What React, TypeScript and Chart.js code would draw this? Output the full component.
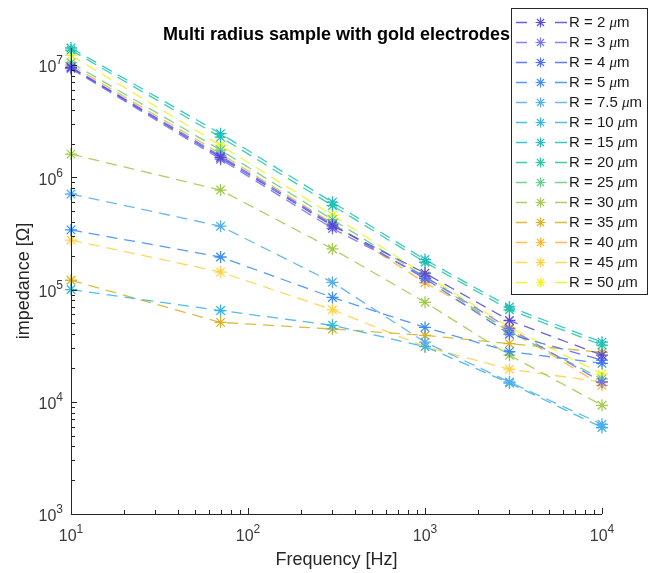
import React, { useEffect, useRef } from "react";
import { Chart, registerables } from "chart.js";

Chart.register(...registerables);

// ---- data ----
const frequencies = [10, 70, 300, 1000, 3000, 10000];
const radiusLabels = ["2", "3", "4", "5", "7.5", "10", "15", "20", "25", "30", "35", "40", "45", "50"];

const seriesR2 = [9.5e6, 1.5e6, 3.7e5, 1.4e5, 5.3e4, 2.6e4];
const seriesR3 = [9.3e6, 1.45e6, 3.5e5, 1.3e5, 4.5e4, 1.5e4];
const seriesR4 = [9.6e6, 1.55e6, 3.8e5, 1.25e5, 4.0e4, 2.35e4];
const seriesR5 = [3.4e5, 1.95e5, 8.5e4, 4.6e4, 2.8e4, 2.2e4];
const seriesR7_5 = [7.1e5, 3.67e5, 1.16e5, 3.4e4, 1.5e4, 6.3e3];
const seriesR10 = [1.0e5, 6.5e4, 4.8e4, 3.1e4, 1.47e4, 5.9e3];
const seriesR15 = [1.42e7, 2.45e6, 6.0e5, 1.85e5, 7.0e4, 3.4e4];
const seriesR20 = [1.36e7, 2.28e6, 5.6e5, 1.75e5, 6.6e4, 3.2e4];
const seriesR25 = [1.05e7, 1.75e6, 4.2e5, 1.3e5, 4.2e4, 1.6e4];
const seriesR30 = [1.61e6, 7.7e5, 2.3e5, 7.7e4, 2.6e4, 9.3e3];
const seriesR35 = [1.21e5, 5.1e4, 4.45e4, 3.9e4, 3.3e4, 2.75e4];
const seriesR40 = [1.0e7, 1.62e6, 3.9e5, 1.15e5, 4.4e4, 1.4e4];
const seriesR45 = [2.76e5, 1.43e5, 6.6e4, 3.1e4, 1.95e4, 1.5e4];
const seriesR50 = [1.22e7, 1.93e6, 4.6e5, 1.35e5, 4.6e4, 1.77e4];

const allSeries = [
  seriesR2, seriesR3, seriesR4, seriesR5, seriesR7_5, seriesR10, seriesR15,
  seriesR20, seriesR25, seriesR30, seriesR35, seriesR40, seriesR45, seriesR50,
];

const xTickExponents = [1, 2, 3, 4];
const yTickExponents = [3, 4, 5, 6, 7];

const titleText = "Multi radius sample with gold electrodes";
const xTitle = "Frequency [Hz]";
const yTitle = "impedance [\u03A9]";

// ---- styles ----
const seriesColors = [
  [84, 70, 210],
  [112, 112, 240],
  [70, 104, 245],
  [55, 138, 240],
  [80, 172, 238],
  [50, 180, 222],
  [28, 188, 190],
  [30, 196, 158],
  [96, 204, 128],
  [158, 200, 72],
  [212, 176, 32],
  [255, 176, 48],
  [255, 208, 64],
  [245, 238, 32],
];

const rgba = (c: number[], a: number) => `rgba(${c[0]},${c[1]},${c[2]},${a})`;
const FONT = '"Liberation Sans", Arial, Helvetica, sans-serif';

function drawStar(ctx: CanvasRenderingContext2D, x: number, y: number, r: number, color: string) {
  const d = r * Math.SQRT1_2;
  ctx.save();
  ctx.setLineDash([]);
  ctx.strokeStyle = color;
  ctx.lineWidth = 1.2;
  ctx.beginPath();
  ctx.moveTo(x - r, y); ctx.lineTo(x + r, y);
  ctx.moveTo(x, y - r); ctx.lineTo(x, y + r);
  ctx.moveTo(x - d, y - d); ctx.lineTo(x + d, y + d);
  ctx.moveTo(x - d, y + d); ctx.lineTo(x + d, y - d);
  ctx.stroke();
  ctx.restore();
}

function drawPow(ctx: CanvasRenderingContext2D, exp: number, x: number, y: number, mode: "center" | "right") {
  ctx.save();
  ctx.fillStyle = "#3a3a3a";
  ctx.textBaseline = "middle";
  ctx.textAlign = "left";
  ctx.font = `16px ${FONT}`;
  const wb = ctx.measureText("10").width;
  ctx.font = `12px ${FONT}`;
  const we = ctx.measureText(String(exp)).width;
  const total = wb + we;
  const x0 = mode === "center" ? x - total / 2 : x - total;
  ctx.font = `16px ${FONT}`;
  ctx.fillText("10", x0, y);
  ctx.font = `12px ${FONT}`;
  ctx.fillText(String(exp), x0 + wb, y - 7);
  ctx.restore();
}

const overlayPlugin = {
  id: "matlabOverlay",
  afterDraw(chart: any) {
    const ctx: CanvasRenderingContext2D = chart.ctx;
    const { left, right, top, bottom } = chart.chartArea;
    const xs = chart.scales.x;
    const ys = chart.scales.y;
    ctx.save();
    ctx.setLineDash([]);
    ctx.strokeStyle = "#262626";
    ctx.lineWidth = 1;
    // axes lines
    ctx.beginPath();
    ctx.moveTo(Math.round(left) + 0.5, top);
    ctx.lineTo(Math.round(left) + 0.5, Math.round(bottom) + 0.5);
    ctx.lineTo(right, Math.round(bottom) + 0.5);
    ctx.stroke();
    // x ticks
    ctx.beginPath();
    for (let d = 1; d <= 4; d++) {
      for (let m = 1; m <= 9; m++) {
        const v = m * Math.pow(10, d);
        if (v < xs.min - 1e-9 || v > xs.max + 1e-9) continue;
        const px = Math.round(xs.getPixelForValue(v)) + 0.5;
        const len = m === 1 ? 6 : 4;
        ctx.moveTo(px, bottom);
        ctx.lineTo(px, bottom - len);
      }
    }
    // y ticks
    for (let d = 3; d <= 7; d++) {
      for (let m = 1; m <= 9; m++) {
        const v = m * Math.pow(10, d);
        if (v < ys.min * 0.999 || v > ys.max) continue;
        const py = Math.round(ys.getPixelForValue(v)) + 0.5;
        const len = m === 1 ? 6 : 4;
        ctx.moveTo(left, py);
        ctx.lineTo(left + len, py);
      }
    }
    ctx.stroke();
    // tick labels
    xTickExponents.forEach((e) => {
      const px = xs.getPixelForValue(Math.pow(10, e));
      drawPow(ctx, e, px, bottom + 23, "center");
    });
    yTickExponents.forEach((e) => {
      const py = ys.getPixelForValue(Math.pow(10, e));
      drawPow(ctx, e, left - 8, py + 3, "right");
    });
    // titles
    ctx.fillStyle = "#262626";
    ctx.textAlign = "center";
    ctx.textBaseline = "middle";
    ctx.font = `18px ${FONT}`;
    ctx.fillText(xTitle, (left + right) / 2, bottom + 46);
    ctx.save();
    ctx.translate(24, (top + bottom) / 2);
    ctx.rotate(-Math.PI / 2);
    ctx.fillText(yTitle, 0, 0);
    ctx.restore();
    ctx.fillStyle = "#000000";
    ctx.font = `bold 18px ${FONT}`;
    ctx.fillText(titleText, (left + right) / 2, 35);

    // legend
    const lx = 511.5, ly = 8.5, lw = 136, lh = 286;
    ctx.fillStyle = "#ffffff";
    ctx.fillRect(lx, ly, lw, lh);
    ctx.strokeStyle = "#262626";
    ctx.lineWidth = 1;
    ctx.strokeRect(lx, ly, lw, lh);
    radiusLabels.forEach((lab, i) => {
      const cy = 22 + 20 * i;
      const c = seriesColors[i];
      ctx.strokeStyle = rgba(c, 0.85);
      ctx.lineWidth = 1.3;
      ctx.beginPath();
      ctx.moveTo(516, cy + 0.5); ctx.lineTo(527, cy + 0.5);
      ctx.moveTo(555, cy + 0.5); ctx.lineTo(567, cy + 0.5);
      ctx.stroke();
      drawStar(ctx, 540.5, cy + 0.5, 5, rgba(c, 0.95));
      ctx.fillStyle = "#1a1a1a";
      ctx.textAlign = "left";
      ctx.textBaseline = "middle";
      ctx.font = `15px ${FONT}`;
      const t1 = `R = ${lab} `;
      ctx.fillText(t1, 569, cy + 1);
      let x = 569 + ctx.measureText(t1).width;
      ctx.font = `italic 15px "Liberation Serif", "Times New Roman", serif`;
      ctx.fillText("\u03BC", x, cy + 1);
      x += ctx.measureText("\u03BC").width;
      ctx.font = `15px ${FONT}`;
      ctx.fillText("m", x, cy + 1);
    });
    ctx.restore();
  },
};

export default function App() {
  const canvasRef = useRef<HTMLCanvasElement | null>(null);

  useEffect(() => {
    document.body.style.margin = "0";
    const canvas = canvasRef.current;
    if (!canvas) return;
    const datasets = allSeries.map((vals, i) => ({
      label: `R = ${radiusLabels[i]} \u03BCm`,
      data: vals.map((v, j) => ({ x: frequencies[j], y: v })),
      borderColor: rgba(seriesColors[i], 0.85),
      backgroundColor: rgba(seriesColors[i], 0.95),
      borderWidth: 1.3,
      borderDash: [11, 7],
      pointStyle: "star" as const,
      pointRadius: 6,
      pointBorderWidth: 1.3,
      pointBorderColor: rgba(seriesColors[i], 0.95),
      pointHoverRadius: 6,
      fill: false,
      tension: 0,
      clip: false as any,
    }));
    const chart = new Chart(canvas, {
      type: "line",
      data: { datasets },
      options: {
        animation: false,
        responsive: false,
        devicePixelRatio: 1,
        layout: { padding: { left: 71, right: 53, top: 48, bottom: 59 } },
        scales: {
          x: { type: "logarithmic", min: 10, max: 10000, display: false },
          y: { type: "logarithmic", min: 1000, max: 1.42e7, display: false },
        },
        plugins: {
          legend: { display: false },
          tooltip: { enabled: false },
          title: { display: false },
        },
        events: [],
      },
      plugins: [overlayPlugin],
    });
    return () => chart.destroy();
  }, []);

  return (
    <div style={{ width: 655, height: 573, background: "#ffffff" }}>
      <canvas ref={canvasRef} width={655} height={573} style={{ display: "block" }} />
    </div>
  );
}
